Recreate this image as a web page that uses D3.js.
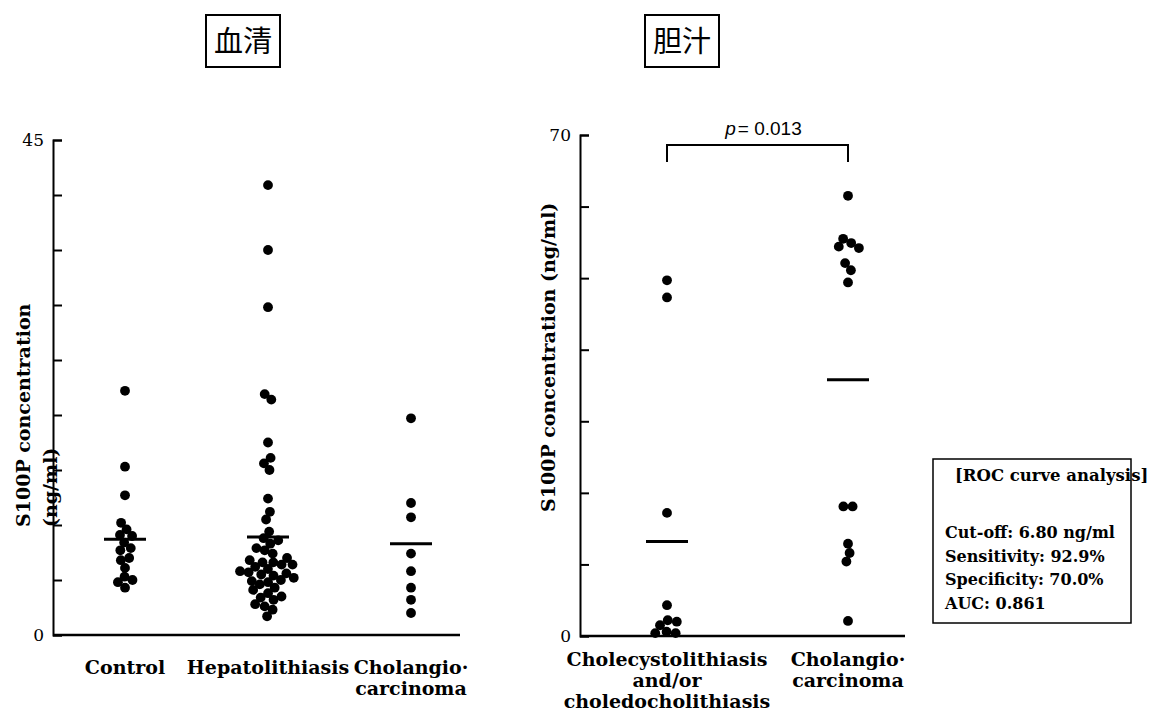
<!DOCTYPE html>
<html lang="ja">
<head>
<meta charset="UTF-8">
<title>S100P concentration</title>
<script src="https://d3js.org/d3.v7.min.js"></script>
<style>
  body { margin: 0; background: #fff; }
  text { font-family: "DejaVu Serif", serif; font-weight: bold; fill: #000; }
</style>
</head>
<body>
<div id="chart"></div>
<script>
// serum panel
const serumCats = ["Control", "Hepatolithiasis", "Cholangiocarcinoma"];
const serumLabels = [["Control"], ["Hepatolithiasis"], ["Cholangio·", "carcinoma"]];
const serumControl = [22.2, 15.3, 12.7, 10.2, 9.6, 9.1, 9.0, 8.4, 7.9, 7.7, 7.0, 6.8, 6.1, 5.3, 5.0, 4.8, 4.3];
const serumHepato = [40.9, 35.0, 29.8, 21.9, 21.4, 17.5, 16.1, 15.6, 15.0, 12.4, 11.2, 10.5, 9.4,
  8.8, 8.6, 8.3, 7.9, 7.7, 7.4, 7.0, 6.8, 6.6, 6.6, 6.4, 6.4, 6.2, 6.0, 5.8, 5.7, 5.6, 5.5, 5.4,
  5.2, 5.0, 4.9, 4.8, 4.6, 4.3, 4.1, 3.8, 3.5, 3.4, 3.2, 2.8, 2.6, 2.3, 1.7];
const serumCholangio = [19.7, 12.0, 10.7, 7.4, 5.8, 4.3, 3.2, 2.0];
const serumMeans = [8.7, 8.9, 8.3];
const serumTicks = [0, 5, 10, 15, 20, 25, 30, 35, 40, 45];
const serumTickLabels = { 0: "0", 45: "45" };

// bile panel
const bileCats = ["Benign", "Cholangiocarcinoma"];
const bileLabels = [["Cholecystolithiasis", "and/or", "choledocholithiasis"], ["Cholangio·", "carcinoma"]];
const bileBenign = [49.7, 47.3, 17.2, 4.3, 2.2, 2.0, 1.5, 0.6, 0.4, 0.4];
const bileCholangio = [61.5, 55.5, 54.9, 54.4, 54.2, 52.1, 51.1, 49.4, 18.1, 18.1, 12.9, 11.6, 10.4, 2.1];
const bileMeans = [13.2, 35.8];
const bileTicks = [0, 10, 20, 30, 40, 50, 60, 70];
const bileTickLabels = { 0: "0", 70: "70" };

const rocLines = ["Cut-off: 6.80 ng/ml", "Sensitivity: 92.9%", "Specificity: 70.0%", "AUC: 0.861"];

const svg = d3.select("#chart").append("svg")
  .attr("width", 1152)
  .attr("height", 718);
svg.append("rect").attr("width", 1152).attr("height", 718).attr("fill", "#fff");

const R = 4.9;

function panel(opt) {
  const g = svg.append("g");
  const x = d3.scalePoint().domain(opt.cats).range(opt.xRange);
  const y = d3.scaleLinear().domain(opt.domain).range(opt.yRange);

  // y axis, ticks pointing inward
  const ax = g.append("g")
    .attr("transform", `translate(${opt.axisX},0)`)
    .call(d3.axisRight(y).tickValues(opt.ticks).tickSize(9).tickSizeOuter(9).tickFormat(""));
  ax.selectAll("path, line").attr("stroke", "#000").attr("stroke-width", 2);

  // x baseline
  g.append("line")
    .attr("x1", opt.axisX).attr("x2", opt.xEnd)
    .attr("y1", y(0)).attr("y2", y(0))
    .attr("stroke", "#000").attr("stroke-width", 2.5);

  // tick labels
  g.selectAll(".tl").data(opt.ticks.filter(t => opt.tickLabels[t] !== undefined))
    .join("text")
    .attr("x", opt.axisX - 9)
    .attr("y", d => y(d))
    .attr("dy", "0.35em")
    .attr("text-anchor", "end")
    .attr("font-size", 17)
    .style("font-weight", "normal")
    .text(d => opt.tickLabels[d]);

  // beeswarm layout for points
  const nodes = [];
  opt.groups.forEach((vals, i) => vals.forEach(v => nodes.push({ cat: opt.cats[i], v, x: x(opt.cats[i]), fy: y(v) })));
  const sim = d3.forceSimulation(nodes)
    .force("x", d3.forceX(d => x(d.cat)).strength(0.15))
    .force("collide", d3.forceCollide(opt.collide))
    .stop();
  for (let i = 0; i < 300; i++) sim.tick();

  g.selectAll("circle").data(nodes).join("circle")
    .attr("cx", d => d.x)
    .attr("cy", d => d.fy)
    .attr("r", R)
    .attr("fill", "#000");

  // mean lines
  g.selectAll(".mean").data(opt.means).join("line")
    .attr("x1", (d, i) => x(opt.cats[i]) - 21)
    .attr("x2", (d, i) => x(opt.cats[i]) + 21)
    .attr("y1", d => y(d)).attr("y2", d => y(d))
    .attr("stroke", "#000").attr("stroke-width", 3);

  // category labels
  opt.labels.forEach((lines, i) => {
    const t = g.append("text")
      .attr("x", x(opt.cats[i]))
      .attr("y", opt.labelY)
      .attr("text-anchor", "middle")
      .attr("font-size", 19);
    lines.forEach((l, j) => t.append("tspan").attr("x", x(opt.cats[i])).attr("dy", j ? opt.lineH : 0).text(l));
  });
  return { g, x, y };
}

const left = panel({
  cats: serumCats, labels: serumLabels,
  groups: [serumControl, serumHepato, serumCholangio], means: serumMeans,
  domain: [0, 45], yRange: [635, 140], xRange: [125, 411],
  axisX: 53, xEnd: 460, ticks: serumTicks, tickLabels: serumTickLabels,
  labelY: 674, lineH: 21, collide: 4.3
});

const right = panel({
  cats: bileCats, labels: bileLabels,
  groups: [bileBenign, bileCholangio], means: bileMeans,
  domain: [0, 70], yRange: [636, 135], xRange: [667, 848],
  axisX: 580, xEnd: 905, ticks: bileTicks, tickLabels: bileTickLabels,
  labelY: 666, lineH: 21, collide: 4.6
});

// y axis titles
function yTitle(xc, yb, txt) {
  svg.append("text")
    .attr("transform", `translate(${xc},${yb}) rotate(-90)`)
    .attr("dy", "0.35em")
    .attr("font-size", 19)
    .text(txt);
}
yTitle(23, 527, "S100P concentration");
yTitle(50, 527, "(ng/ml)");
yTitle(548, 512, "S100P concentration (ng/ml)");

// panel titles in boxes
function boxTitle(x0, txt) {
  svg.append("rect").attr("x", x0).attr("y", 15).attr("width", 74).attr("height", 52)
    .attr("fill", "none").attr("stroke", "#000").attr("stroke-width", 2);
  svg.append("text").attr("x", x0 + 37).attr("y", 52)
    .attr("text-anchor", "middle")
    .attr("font-size", 29)
    .style("font-family", "'Noto Sans CJK JP', sans-serif")
    .style("font-weight", "normal")
    .text(txt);
}
boxTitle(206, "血清");
boxTitle(645, "胆汁");

// significance bracket
const bx = right.x, by = 145;
svg.append("path")
  .attr("d", `M${bx("Benign")},${by + 17}V${by}H${bx("Cholangiocarcinoma")}V${by + 17}`)
  .attr("fill", "none").attr("stroke", "#000").attr("stroke-width", 2);
const pt = svg.append("text")
  .attr("x", (bx("Benign") + bx("Cholangiocarcinoma")) / 2 + 6)
  .attr("y", 135)
  .attr("text-anchor", "middle")
  .attr("font-size", 19)
  .style("font-family", "'Liberation Sans', sans-serif")
  .style("font-weight", "normal");
pt.append("tspan").style("font-style", "italic").text("p");
pt.append("tspan").attr("dx", 2).text("= 0.013");

// ROC box
svg.append("rect").attr("x", 933).attr("y", 459).attr("width", 198).attr("height", 164)
  .attr("fill", "none").attr("stroke", "#000").attr("stroke-width", 1.5);
svg.append("text").attr("x", 955).attr("y", 481).attr("font-size", 16.5).text("[ROC curve analysis]");
svg.selectAll(".roc").data(rocLines).join("text")
  .attr("x", 945)
  .attr("y", (d, i) => 538 + i * 23.5)
  .attr("font-size", 16)
  .text(d => d);
</script>
</body>
</html>
